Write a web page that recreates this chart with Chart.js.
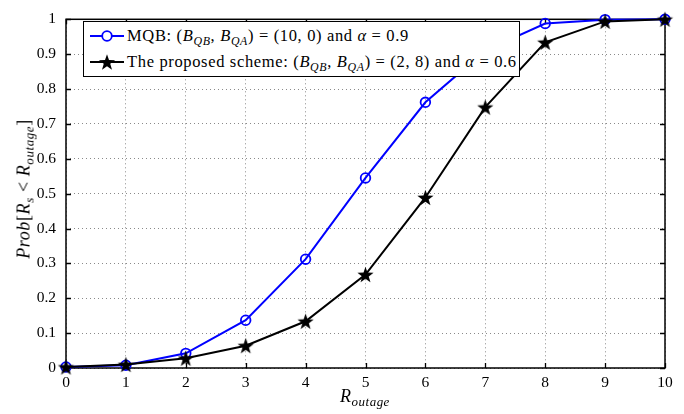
<!DOCTYPE html>
<html><head><meta charset="utf-8">
<script src="https://cdn.jsdelivr.net/npm/chart.js@4.4.0/dist/chart.umd.min.js"></script>
<style>
html,body{margin:0;padding:0;background:#fff;}
#wrap{position:relative;width:684px;height:414px;font-family:"Liberation Serif","DejaVu Serif",serif;color:#000;}
#c{position:absolute;left:0;top:0;}
.sub{font-size:0.72em;vertical-align:-0.32em;line-height:0;font-style:italic;}
i{font-style:italic;}
#legend{position:absolute;left:83px;top:21px;width:437px;height:56px;border:1px solid #000;background:#fff;box-sizing:border-box;font-size:16.5px;letter-spacing:0.65px;}
.row{position:absolute;left:0;height:24px;line-height:24px;white-space:nowrap;}
.row svg{position:absolute;left:4px;top:2px;}
.row span.t{position:absolute;left:43px;top:0;}
#xtitle{position:absolute;left:315px;width:100px;top:386px;text-align:center;font-size:18px;letter-spacing:0.5px;}
#ytitle{position:absolute;left:24px;top:189px;width:220px;margin-left:-110px;text-align:center;font-size:18px;letter-spacing:0.6px;transform:translateY(-50%) rotate(-90deg);white-space:nowrap;}
</style>
</head><body>
<div id="wrap">
<canvas id="c" width="684" height="414"></canvas>
<div id="legend">
  <div class="row" style="top:2px"><svg width="40" height="20"><line x1="2" y1="10" x2="36" y2="10" stroke="#0000ff" stroke-width="2"/><circle cx="19" cy="10" r="4.8" fill="#fff" stroke="#0000ff" stroke-width="1.8"/></svg><span class="t">MQB: (<i>B</i><span class="sub">QB</span>, <i>B</i><span class="sub">QA</span>) = (10, 0) and <i>α</i> = 0.9</span></div>
  <div class="row" style="top:28px"><svg width="40" height="20" id="starsvg"><line x1="2" y1="10" x2="36" y2="10" stroke="#000" stroke-width="2"/></svg><span class="t">The proposed scheme: (<i>B</i><span class="sub">QB</span>, <i>B</i><span class="sub">QA</span>) = (2, 8) and <i>α</i> = 0.6</span></div>
</div>
<div id="xtitle"><i>R</i><span class="sub">outage</span></div>
<div id="ytitle"><i>Prob</i>[<i>R</i><span class="sub">s</span> &lt; <i>R</i><span class="sub">outage</span>]</div>
</div>
<script>
const xValues = [0,1,2,3,4,5,6,7,8,9,10];
const mqbValues = [0.003,0.008,0.042,0.137,0.312,0.545,0.762,0.91,0.988,0.999,1.0];
const proposedValues = [0.003,0.01,0.028,0.064,0.134,0.268,0.489,0.748,0.934,0.994,1.0];
const xTickLabels = ['0','1','2','3','4','5','6','7','8','9','10'];
const yTickValues = [0,0.1,0.2,0.3,0.4,0.5,0.6,0.7,0.8,0.9,1];
const yTickLabels = ['0','0.1','0.2','0.3','0.4','0.5','0.6','0.7','0.8','0.9','1'];

function starPoints(cx, cy, R){
  const r = R*0.4; const pts=[];
  for(let k=0;k<10;k++){
    const a = -Math.PI/2 + k*Math.PI/5;
    const rr = k%2===0?R:r;
    pts.push([cx+rr*Math.cos(a), cy+rr*Math.sin(a)]);
  }
  return pts;
}
function makeStar(R){
  const s = Math.ceil(R*2+2);
  const cv = document.createElement('canvas'); cv.width=s; cv.height=s;
  const g = cv.getContext('2d');
  const pts = starPoints(s/2, s/2+R*0.1, R);
  g.beginPath(); pts.forEach((p,i)=>i?g.lineTo(p[0],p[1]):g.moveTo(p[0],p[1])); g.closePath();
  g.fillStyle='#000'; g.fill();
  return cv;
}
const starImg = makeStar(8.5);
(function(){
  const svg=document.getElementById('starsvg');
  const pts=starPoints(19,10.8,8.5).map(p=>p[0].toFixed(2)+','+p[1].toFixed(2)).join(' ');
  const poly=document.createElementNS('http://www.w3.org/2000/svg','polygon');
  poly.setAttribute('points',pts); poly.setAttribute('fill','#000');
  svg.appendChild(poly);
})();

const frame = {
  id:'frame',
  beforeDatasetsDraw(chart){
    const {ctx, chartArea:a, scales} = chart;
    ctx.save();
    ctx.strokeStyle='#000'; ctx.lineWidth=1.3; ctx.setLineDash([]);
    ctx.beginPath();
    xValues.forEach(v=>{
      const x = Math.round(scales.x.getPixelForValue(v))+0.5;
      ctx.moveTo(x,a.bottom); ctx.lineTo(x,a.bottom-5);
      ctx.moveTo(x,a.top); ctx.lineTo(x,a.top+5);
    });
    yTickValues.forEach(v=>{
      const y = Math.round(scales.y.getPixelForValue(v))+0.5;
      ctx.moveTo(a.left,y); ctx.lineTo(a.left+5,y);
      ctx.moveTo(a.right,y); ctx.lineTo(a.right-5,y);
    });
    ctx.stroke();
    ctx.lineWidth=1.5;
    ctx.strokeRect(a.left, a.top, a.right-a.left, a.bottom-a.top);
    ctx.restore();
  }
};

const tickFont = {family:'"Liberation Serif","DejaVu Serif",serif', size:15.5};
new Chart(document.getElementById('c'), {
  type:'line',
  data:{
    datasets:[
      {label:'The proposed scheme', data:xValues.map((x,i)=>({x, y:proposedValues[i]})),
       borderColor:'#000', backgroundColor:'#000', borderWidth:2, pointStyle:starImg,
       pointRadius:8, clip:false, tension:0, order:0},
      {label:'MQB', data:xValues.map((x,i)=>({x, y:mqbValues[i]})),
       borderColor:'#0000ff', backgroundColor:'rgba(255,255,255,0)', borderWidth:2, pointStyle:'circle',
       pointRadius:4.8, pointBorderWidth:1.8, pointBorderColor:'#0000ff', clip:false, tension:0, order:1}
    ]
  },
  options:{
    responsive:false, animation:false, devicePixelRatio:1,
    layout:{padding:{left:0,right:19,top:10,bottom:0}},
    plugins:{legend:{display:false}, tooltip:{enabled:false}},
    scales:{
      x:{type:'linear', min:0, max:10,
         afterBuildTicks:s=>{s.ticks = xValues.map(v=>({value:v}));},
         afterFit:s=>{s.height=46;},
         ticks:{callback:(v,i)=>xTickLabels[i], font:tickFont, color:'#000', padding:6, maxRotation:0, autoSkip:false},
         grid:{color:'#8a8a8a', lineWidth:1, drawTicks:false},
         border:{display:false, dash:[1,3]}
      },
      y:{type:'linear', min:0, max:1,
         afterBuildTicks:s=>{s.ticks = yTickValues.map(v=>({value:v}));},
         afterFit:s=>{s.width=66;},
         ticks:{callback:(v,i)=>yTickLabels[i], font:tickFont, color:'#000', padding:10, autoSkip:false},
         grid:{color:'#8a8a8a', lineWidth:1, drawTicks:false},
         border:{display:false, dash:[1,3]}
      }
    }
  },
  plugins:[frame]
});
</script>
</body></html>
